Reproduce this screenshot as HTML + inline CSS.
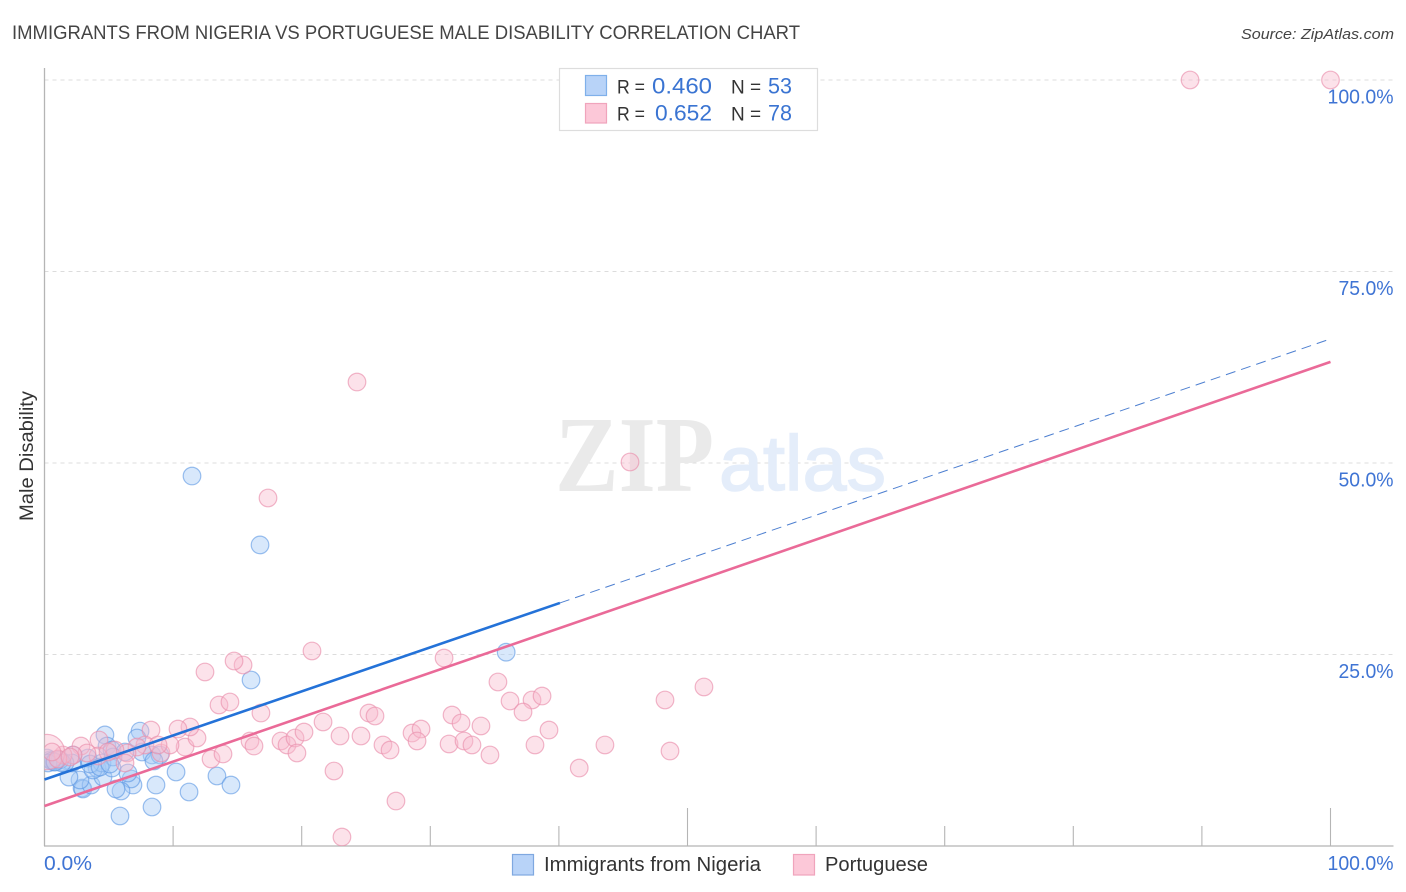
<!DOCTYPE html>
<html lang="en">
<head>
<meta charset="utf-8">
<title>Immigrants from Nigeria vs Portuguese Male Disability Correlation Chart</title>
<style>
html,body{margin:0;padding:0;background:#fff;width:1406px;height:892px;overflow:hidden}
svg{display:block;font-family:"Liberation Sans",sans-serif}
</style>
</head>
<body>
<svg id="chart" xmlns="http://www.w3.org/2000/svg" width="1406" height="892" viewBox="0 0 1406 892">
  <defs><clipPath id="plot-clip"><rect x="44.5" y="60" width="1349" height="786"/></clipPath></defs>
  <text x="12" y="39" font-size="19" fill="#444" textLength="788" lengthAdjust="spacingAndGlyphs">IMMIGRANTS FROM NIGERIA VS PORTUGUESE MALE DISABILITY CORRELATION CHART</text>
  <text x="1394" y="39" font-size="15" font-style="italic" fill="#444" text-anchor="end" textLength="153" lengthAdjust="spacingAndGlyphs">Source: ZipAtlas.com</text>
  <g id="grid"></g>
  <g>
    <text x="555" y="491" font-family="'Liberation Serif',serif" font-size="108" font-weight="bold" fill="#eaeaea" textLength="159" lengthAdjust="spacingAndGlyphs">ZIP</text>
    <text x="719" y="490" font-size="78" fill="#e4edfa" stroke="#e4edfa" stroke-width="1.5" textLength="167" lengthAdjust="spacingAndGlyphs">atlas</text>
  </g>
  <g id="axes"></g>
  <g id="points" clip-path="url(#plot-clip)"></g>
  <g id="trends"></g>
  <g id="labels"></g>
  <text transform="translate(33,456) rotate(-90)" font-size="19" fill="#333" text-anchor="middle" textLength="130" lengthAdjust="spacingAndGlyphs">Male Disability</text>

  <g>
    <rect x="559.5" y="68.5" width="258" height="62" fill="#fff" stroke="#ddd" stroke-width="1.2"/>
    <rect x="585.5" y="75.5" width="21" height="20" fill="#b8d3f8" stroke="#7fb0ea" stroke-width="1.2"/>
    <rect x="585.5" y="103.5" width="21" height="19.5" fill="#fcc8d8" stroke="#f0a4bc" stroke-width="1.2"/>
    <text x="617" y="93.5" font-size="19" fill="#333" textLength="28" lengthAdjust="spacingAndGlyphs">R =</text>
    <text x="712" y="93.5" font-size="22" fill="#3a74d2" text-anchor="end" textLength="60" lengthAdjust="spacingAndGlyphs">0.460</text>
    <text x="731" y="93.5" font-size="19" fill="#333">N =</text>
    <text x="792" y="93.5" font-size="22" fill="#3a74d2" text-anchor="end" textLength="24" lengthAdjust="spacingAndGlyphs">53</text>
    <text x="617" y="120.5" font-size="19" fill="#333" textLength="28" lengthAdjust="spacingAndGlyphs">R =</text>
    <text x="712" y="120.5" font-size="22" fill="#3a74d2" text-anchor="end" textLength="57" lengthAdjust="spacingAndGlyphs">0.652</text>
    <text x="731" y="120.5" font-size="19" fill="#333">N =</text>
    <text x="792" y="120.5" font-size="22" fill="#3a74d2" text-anchor="end" textLength="24" lengthAdjust="spacingAndGlyphs">78</text>
  </g>

  <g>
    <rect x="512.5" y="854.5" width="21" height="20.5" fill="#b8d3f8" stroke="#7fa8e0" stroke-width="1.2"/>
    <text x="544" y="871" font-size="20" fill="#333" textLength="217" lengthAdjust="spacingAndGlyphs">Immigrants from Nigeria</text>
    <rect x="793.5" y="854.5" width="21" height="20.5" fill="#fcc8d8" stroke="#f0a4bc" stroke-width="1.2"/>
    <text x="825" y="871" font-size="20" fill="#333" textLength="103" lengthAdjust="spacingAndGlyphs">Portuguese</text>
  </g>
</svg>
<script>
const yTickValues = [25, 50, 75, 100];
const yTickLabels = ["25.0%", "50.0%", "75.0%", "100.0%"];
const xTickValues = [0, 10, 20, 30, 40, 50, 60, 70, 80, 90, 100];
const xMajorTicks = [50, 100];
const xEndLabels = ["0.0%", "100.0%"];

const nigeriaX = [11.47,16.76,35.9,16.06,4.7,7.43,7.19,4.86,5.25,8.36,8.98,7.58,8.51,10.23,13.41,14.5,11.24,8.67,8.36,5.87,6.88,6.73,6.49,5.95,5.56,2.92,2.99,3.62,2.76,1.9,4.55,5.25,4.08,3.77,4.47,3.38,2.22,2.14,1.59,0.97,0.43,0.19,0.74,1.2,1.36,0.58,0.27,0.82,3.54,6.26,5.33,4.32,5.09];
const nigeriaY = [48.3,39.3,25.3,21.67,14.5,15.0,14.1,13.05,12.53,11.88,11.88,12.27,11.1,9.66,9.14,7.96,7.05,7.96,5.09,3.92,7.96,8.75,9.53,7.18,7.44,7.57,7.44,7.96,8.62,9.0,9.0,10.18,10.18,9.92,10.84,11.49,11.88,10.84,10.84,11.23,11.23,11.49,10.97,11.23,10.84,11.1,10.84,10.97,10.7,12.27,11.62,10.31,10.7];

const portugueseX = [20.8,31.07,15.44,14.74,12.48,13.57,14.42,16.83,15.98,16.29,18.39,18.86,19.48,20.18,19.63,21.66,22.98,24.61,25.23,25.7,26.32,26.87,22.51,27.33,23.13,28.58,29.28,28.97,31.69,32.39,31.46,32.62,33.24,33.94,35.26,36.2,37.91,38.69,37.21,39.23,38.14,34.64,43.58,41.58,48.25,51.28,48.64,89.08,100,24.3,45.53,17.38,12.95,13.88,10.93,11.86,11.31,10.38,8.28,4.24,2.84,9.06,7.81,7.19,6.42,5.48,4.16,3.3,2.22,1.44,0.19,1.05,1.98,6.26,9.76,0.58,4.94,8.83];
const portugueseY = [25.46,24.54,23.63,24.15,22.72,18.41,18.8,17.36,13.71,13.05,13.71,13.19,14.1,14.88,12.14,16.19,14.36,14.36,17.36,16.97,13.19,12.53,9.79,5.87,1.17,14.75,15.27,13.71,17.1,16.06,13.32,13.71,13.19,15.67,21.41,18.93,19.06,19.58,17.49,15.14,13.19,11.88,13.19,10.18,19.06,20.76,12.4,100,100,60.57,50.13,45.43,11.36,12.01,12.92,14.1,15.54,15.27,15.14,13.84,13.05,12.14,13.19,12.92,12.14,12.53,11.75,12.14,11.88,11.88,12.27,11.36,11.62,10.84,13.19,12.27,12.27,13.19];
const portugueseWeight = [1,1,1,1,1,1,1,1,1,1,1,1,1,1,1,1,1,1,1,1,1,1,1,1,1,1,1,1,1,1,1,1,1,1,1,1,1,1,1,1,1,1,1,1,1,1,1,1,1,1,1,1,1,1,1,1,1,1,1,1,1,1,1,1,1,1,1,1,1,1,2,1,1,1,1,1,1,1];

const nigeriaTrend = [8.68, 66.2];
const nigeriaTrendSolidEnd = 40.08;
const portugueseTrend = [5.22, 63.2];

const NS = "http://www.w3.org/2000/svg";
function xScale(v){ return 44.5 + v * 12.86; }
function yScale(v){ return 846 - v * 7.66; }
function make(tag, attrs, parent){
  const el = document.createElementNS(NS, tag);
  for (const k in attrs) el.setAttribute(k, attrs[k]);
  parent.appendChild(el);
  return el;
}
function trendAt(t, x){ return t[0] + (t[1] - t[0]) * x / 100; }

const grid = document.getElementById("grid");
const axes = document.getElementById("axes");
const labels = document.getElementById("labels");
const points = document.getElementById("points");
const trends = document.getElementById("trends");

yTickValues.forEach(function(v, i){
  const line = make("line", {x1:44.5, x2:1393.5, y1:yScale(v), y2:yScale(v), stroke:"#dcdcdc", "stroke-width":1, "stroke-dasharray":"4 4"}, grid);
  
  
  const t = make("text", {x:1393.5, y:yScale(v) + 23.5, "font-size":20, fill:"#3f74d4", "text-anchor":"end", textLength: yTickLabels[i].length > 5 ? 66 : 55, lengthAdjust:"spacingAndGlyphs"}, labels);
  t.textContent = yTickLabels[i];
  
  
});

const yAxis = make("line", {x1:44.5, x2:44.5, y1:68, y2:846, stroke:"#b5b5b5", "stroke-width":1.3}, axes);


const xAxis = make("line", {x1:44, x2:1393.5, y1:846, y2:846, stroke:"#b5b5b5", "stroke-width":1.3}, axes);


xTickValues.forEach(function(v){
  if (v === 0) return;
  const len = xMajorTicks.indexOf(v) >= 0 ? 38 : 20;
  const tick = make("line", {x1:xScale(v), x2:xScale(v), y1:846 - len, y2:846, stroke:"#b5b5b5", "stroke-width":1.1}, axes);
  
  
});

const xLabelStart = make("text", {x:44, y:870, "font-size":20, fill:"#3f74d4", textLength:48, lengthAdjust:"spacingAndGlyphs"}, labels);
xLabelStart.textContent = xEndLabels[0];


const xLabelEnd = make("text", {x:1393.5, y:870, "font-size":20, fill:"#3f74d4", "text-anchor":"end", textLength:66, lengthAdjust:"spacingAndGlyphs"}, labels);
xLabelEnd.textContent = xEndLabels[1];



nigeriaX.forEach(function(x, i){
  const c = make("circle", {cx:xScale(x), cy:yScale(nigeriaY[i]), r:8.8, fill:"#a9cbf6", "fill-opacity":0.45, stroke:"#5a96e2", "stroke-opacity":0.6, "stroke-width":1.2}, points);
  
  
});
portugueseX.forEach(function(x, i){
  const c = make("circle", {cx:xScale(x), cy:yScale(portugueseY[i]), r:8.8 * portugueseWeight[i], fill:"#f9b9cc", "fill-opacity":0.42, stroke:"#ea8fac", "stroke-opacity":0.65, "stroke-width":1.2}, points);
  
  
});

const pinkLine = make("line", {x1:xScale(0), y1:yScale(trendAt(portugueseTrend,0)), x2:xScale(100), y2:yScale(trendAt(portugueseTrend,100)), stroke:"#ea6a98", "stroke-width":2.6}, trends);


const blueSolid = make("line", {x1:xScale(0), y1:yScale(trendAt(nigeriaTrend,0)), x2:xScale(nigeriaTrendSolidEnd), y2:yScale(trendAt(nigeriaTrend,nigeriaTrendSolidEnd)), stroke:"#2472d8", "stroke-width":2.6}, trends);


const blueDash = make("line", {x1:xScale(nigeriaTrendSolidEnd), y1:yScale(trendAt(nigeriaTrend,nigeriaTrendSolidEnd)), x2:xScale(100), y2:yScale(trendAt(nigeriaTrend,100)), stroke:"#4d7fd0", "stroke-width":1, "stroke-dasharray":"10 6"}, trends);


</script>
</body>
</html>
